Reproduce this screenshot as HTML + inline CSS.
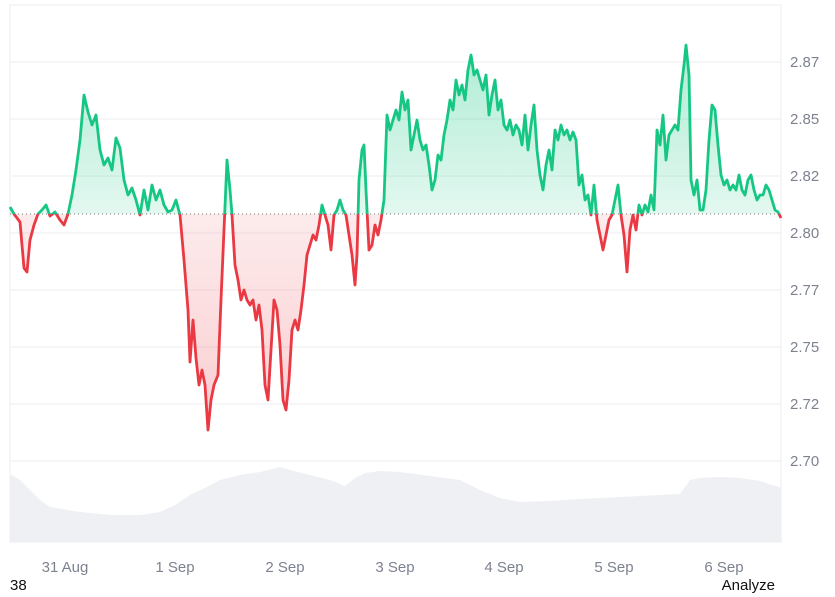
<!DOCTYPE html>
<html><head><meta charset="utf-8"><style>
html,body{margin:0;padding:0;background:#fff;}
svg{display:block;font-family:"Liberation Sans",sans-serif;}
</style></head><body>
<svg width="835" height="597" viewBox="0 0 835 597" xmlns="http://www.w3.org/2000/svg">
<defs>
<linearGradient id="gg" x1="0" y1="40" x2="0" y2="214" gradientUnits="userSpaceOnUse">
<stop offset="0" stop-color="#16c784" stop-opacity="0.35"/><stop offset="1" stop-color="#16c784" stop-opacity="0.12"/></linearGradient>
<linearGradient id="rg" x1="0" y1="214" x2="0" y2="430" gradientUnits="userSpaceOnUse">
<stop offset="0" stop-color="#ea3943" stop-opacity="0.1"/><stop offset="1" stop-color="#ea3943" stop-opacity="0.25"/></linearGradient>
<clipPath id="ca"><rect x="0" y="0" width="835" height="214"/></clipPath>
<clipPath id="cb"><rect x="0" y="214" width="835" height="400"/></clipPath>
<path id="p" d="M10,207 L14,214 L20,222 L24,268 L27,272 L30,240 L34,225 L38,214 L42,210 L46,205 L50,216 L55,212 L60,220 L64,225 L68,214 L72,195 L76,170 L80,140 L84,95 L88,112 L92,125 L96,115 L100,150 L104,165 L108,158 L112,170 L116,138 L120,148 L124,180 L128,195 L132,188 L136,200 L140,215 L144,190 L148,210 L152,185 L156,200 L160,190 L164,205 L168,212 L172,210 L176,200 L180,215 L184,260 L188,310 L190,362 L193,320 L196,358 L199,385 L202,370 L205,385 L208,430 L211,400 L214,385 L218,375 L221,300 L224,230 L227,160 L230,190 L232,215 L235,265 L238,280 L241,300 L244,290 L247,300 L250,305 L253,300 L256,320 L259,305 L262,330 L265,385 L268,400 L271,350 L274,300 L277,310 L280,345 L283,400 L286,410 L289,380 L292,330 L295,320 L298,330 L301,310 L304,285 L307,255 L310,245 L313,235 L316,240 L319,225 L322,205 L325,215 L328,225 L331,250 L334,215 L337,210 L340,200 L343,210 L346,215 L349,235 L352,255 L355,285 L357,255 L359,180 L362,150 L364,145 L366,190 L369,250 L372,245 L375,225 L378,235 L381,220 L384,200 L387,115 L390,130 L393,120 L396,110 L399,120 L402,92 L405,110 L408,100 L411,150 L414,135 L417,120 L420,140 L423,150 L426,145 L429,165 L432,190 L435,180 L438,155 L441,160 L444,135 L447,120 L450,100 L453,110 L456,80 L459,95 L462,85 L465,100 L468,70 L471,55 L474,75 L477,70 L480,80 L483,90 L486,75 L489,115 L492,95 L495,80 L498,110 L501,100 L504,125 L507,130 L510,120 L513,135 L516,125 L519,130 L522,145 L525,115 L528,150 L531,125 L534,105 L537,150 L540,175 L543,190 L546,165 L549,150 L552,170 L555,130 L558,140 L561,125 L564,135 L567,130 L570,140 L573,132 L576,140 L579,185 L582,175 L585,200 L588,195 L591,215 L594,185 L597,220 L600,235 L603,250 L606,235 L609,220 L612,215 L615,200 L618,185 L621,215 L624,235 L627,272 L630,230 L633,215 L636,230 L639,205 L642,215 L645,205 L648,212 L651,195 L654,210 L657,130 L660,145 L663,115 L666,160 L669,135 L672,130 L675,125 L678,130 L681,90 L684,65 L686,45 L689,75 L691,180 L694,195 L697,180 L700,210 L703,210 L706,190 L709,140 L712,105 L715,110 L718,145 L721,175 L724,185 L727,180 L730,190 L733,185 L736,190 L739,175 L742,190 L745,195 L748,180 L751,175 L754,190 L757,200 L760,195 L763,195 L766,185 L769,190 L772,200 L775,210 L778,212 L781,218"/>
</defs>
<rect x="10" y="5" width="771" height="537" fill="none" stroke="#eceef1"/>
<g stroke="#eceef1" stroke-width="1">
<line x1="10" x2="781" y1="62" y2="62"/><line x1="10" x2="781" y1="119" y2="119"/>
<line x1="10" x2="781" y1="176" y2="176"/><line x1="10" x2="781" y1="233" y2="233"/>
<line x1="10" x2="781" y1="290" y2="290"/><line x1="10" x2="781" y1="347" y2="347"/>
<line x1="10" x2="781" y1="404" y2="404"/><line x1="10" x2="781" y1="461" y2="461"/>
</g>
<path fill="#eef0f3" d="M10,474 L20,480 L40,500 L50,507 L80,512 L110,515 L140,515 L160,512 L175,505 L190,495 L205,488 L220,480 L240,475 L260,472 L280,467 L290,470 L310,475 L330,480 L345,486 L355,478 L365,473 L380,471 L400,472 L430,476 L460,480 L480,490 L500,498 L520,502 L550,501 L580,499 L620,497 L660,495 L680,494 L690,480 L700,478 L720,477 L740,478 L760,481 L781,488 L781,542 L10,542 Z"/>
<svg x="0" y="0" width="835" height="597" overflow="visible">
<g clip-path="url(#ca)"><path id="area" fill="url(#gg)" d=""/></g>
</svg>
<g clip-path="url(#ca)">
<path fill="url(#gg)" d="M10,214 L10,207 L14,214 L20,222 L24,268 L27,272 L30,240 L34,225 L38,214 L42,210 L46,205 L50,216 L55,212 L60,220 L64,225 L68,214 L72,195 L76,170 L80,140 L84,95 L88,112 L92,125 L96,115 L100,150 L104,165 L108,158 L112,170 L116,138 L120,148 L124,180 L128,195 L132,188 L136,200 L140,215 L144,190 L148,210 L152,185 L156,200 L160,190 L164,205 L168,212 L172,210 L176,200 L180,215 L184,260 L188,310 L190,362 L193,320 L196,358 L199,385 L202,370 L205,385 L208,430 L211,400 L214,385 L218,375 L221,300 L224,230 L227,160 L230,190 L232,215 L235,265 L238,280 L241,300 L244,290 L247,300 L250,305 L253,300 L256,320 L259,305 L262,330 L265,385 L268,400 L271,350 L274,300 L277,310 L280,345 L283,400 L286,410 L289,380 L292,330 L295,320 L298,330 L301,310 L304,285 L307,255 L310,245 L313,235 L316,240 L319,225 L322,205 L325,215 L328,225 L331,250 L334,215 L337,210 L340,200 L343,210 L346,215 L349,235 L352,255 L355,285 L357,255 L359,180 L362,150 L364,145 L366,190 L369,250 L372,245 L375,225 L378,235 L381,220 L384,200 L387,115 L390,130 L393,120 L396,110 L399,120 L402,92 L405,110 L408,100 L411,150 L414,135 L417,120 L420,140 L423,150 L426,145 L429,165 L432,190 L435,180 L438,155 L441,160 L444,135 L447,120 L450,100 L453,110 L456,80 L459,95 L462,85 L465,100 L468,70 L471,55 L474,75 L477,70 L480,80 L483,90 L486,75 L489,115 L492,95 L495,80 L498,110 L501,100 L504,125 L507,130 L510,120 L513,135 L516,125 L519,130 L522,145 L525,115 L528,150 L531,125 L534,105 L537,150 L540,175 L543,190 L546,165 L549,150 L552,170 L555,130 L558,140 L561,125 L564,135 L567,130 L570,140 L573,132 L576,140 L579,185 L582,175 L585,200 L588,195 L591,215 L594,185 L597,220 L600,235 L603,250 L606,235 L609,220 L612,215 L615,200 L618,185 L621,215 L624,235 L627,272 L630,230 L633,215 L636,230 L639,205 L642,215 L645,205 L648,212 L651,195 L654,210 L657,130 L660,145 L663,115 L666,160 L669,135 L672,130 L675,125 L678,130 L681,90 L684,65 L686,45 L689,75 L691,180 L694,195 L697,180 L700,210 L703,210 L706,190 L709,140 L712,105 L715,110 L718,145 L721,175 L724,185 L727,180 L730,190 L733,185 L736,190 L739,175 L742,190 L745,195 L748,180 L751,175 L754,190 L757,200 L760,195 L763,195 L766,185 L769,190 L772,200 L775,210 L778,212 L781,218 L781,214 Z"/>
</g>
<g clip-path="url(#cb)">
<path fill="url(#rg)" d="M10,214 L10,207 L14,214 L20,222 L24,268 L27,272 L30,240 L34,225 L38,214 L42,210 L46,205 L50,216 L55,212 L60,220 L64,225 L68,214 L72,195 L76,170 L80,140 L84,95 L88,112 L92,125 L96,115 L100,150 L104,165 L108,158 L112,170 L116,138 L120,148 L124,180 L128,195 L132,188 L136,200 L140,215 L144,190 L148,210 L152,185 L156,200 L160,190 L164,205 L168,212 L172,210 L176,200 L180,215 L184,260 L188,310 L190,362 L193,320 L196,358 L199,385 L202,370 L205,385 L208,430 L211,400 L214,385 L218,375 L221,300 L224,230 L227,160 L230,190 L232,215 L235,265 L238,280 L241,300 L244,290 L247,300 L250,305 L253,300 L256,320 L259,305 L262,330 L265,385 L268,400 L271,350 L274,300 L277,310 L280,345 L283,400 L286,410 L289,380 L292,330 L295,320 L298,330 L301,310 L304,285 L307,255 L310,245 L313,235 L316,240 L319,225 L322,205 L325,215 L328,225 L331,250 L334,215 L337,210 L340,200 L343,210 L346,215 L349,235 L352,255 L355,285 L357,255 L359,180 L362,150 L364,145 L366,190 L369,250 L372,245 L375,225 L378,235 L381,220 L384,200 L387,115 L390,130 L393,120 L396,110 L399,120 L402,92 L405,110 L408,100 L411,150 L414,135 L417,120 L420,140 L423,150 L426,145 L429,165 L432,190 L435,180 L438,155 L441,160 L444,135 L447,120 L450,100 L453,110 L456,80 L459,95 L462,85 L465,100 L468,70 L471,55 L474,75 L477,70 L480,80 L483,90 L486,75 L489,115 L492,95 L495,80 L498,110 L501,100 L504,125 L507,130 L510,120 L513,135 L516,125 L519,130 L522,145 L525,115 L528,150 L531,125 L534,105 L537,150 L540,175 L543,190 L546,165 L549,150 L552,170 L555,130 L558,140 L561,125 L564,135 L567,130 L570,140 L573,132 L576,140 L579,185 L582,175 L585,200 L588,195 L591,215 L594,185 L597,220 L600,235 L603,250 L606,235 L609,220 L612,215 L615,200 L618,185 L621,215 L624,235 L627,272 L630,230 L633,215 L636,230 L639,205 L642,215 L645,205 L648,212 L651,195 L654,210 L657,130 L660,145 L663,115 L666,160 L669,135 L672,130 L675,125 L678,130 L681,90 L684,65 L686,45 L689,75 L691,180 L694,195 L697,180 L700,210 L703,210 L706,190 L709,140 L712,105 L715,110 L718,145 L721,175 L724,185 L727,180 L730,190 L733,185 L736,190 L739,175 L742,190 L745,195 L748,180 L751,175 L754,190 L757,200 L760,195 L763,195 L766,185 L769,190 L772,200 L775,210 L778,212 L781,218 L781,214 Z"/>
</g>
<g clip-path="url(#ca)"><use href="#p" fill="none" stroke="#16c784" stroke-width="2.8" stroke-linejoin="round"/></g>
<g clip-path="url(#cb)"><use href="#p" fill="none" stroke="#ea3943" stroke-width="2.8" stroke-linejoin="round"/></g>
<line x1="10" x2="781" y1="214" y2="214" stroke="#777" stroke-width="1" stroke-dasharray="1,3"/>
<g fill="#7d8290" font-size="15">
<text x="790" y="67">2.87</text><text x="790" y="124">2.85</text><text x="790" y="181">2.82</text>
<text x="790" y="238">2.80</text><text x="790" y="295">2.77</text><text x="790" y="352">2.75</text>
<text x="790" y="409">2.72</text><text x="790" y="466">2.70</text>
</g>
<g fill="#7d8290" font-size="15" text-anchor="middle">
<text x="65" y="572">31 Aug</text><text x="175" y="572">1 Sep</text><text x="285" y="572">2 Sep</text>
<text x="395" y="572">3 Sep</text><text x="504" y="572">4 Sep</text><text x="614" y="572">5 Sep</text><text x="724" y="572">6 Sep</text>
</g>
<text x="10" y="590" font-size="15" fill="#111">38</text>
<text x="775" y="590" font-size="15" fill="#111" text-anchor="end">Analyze</text>
</svg>
</body></html>
